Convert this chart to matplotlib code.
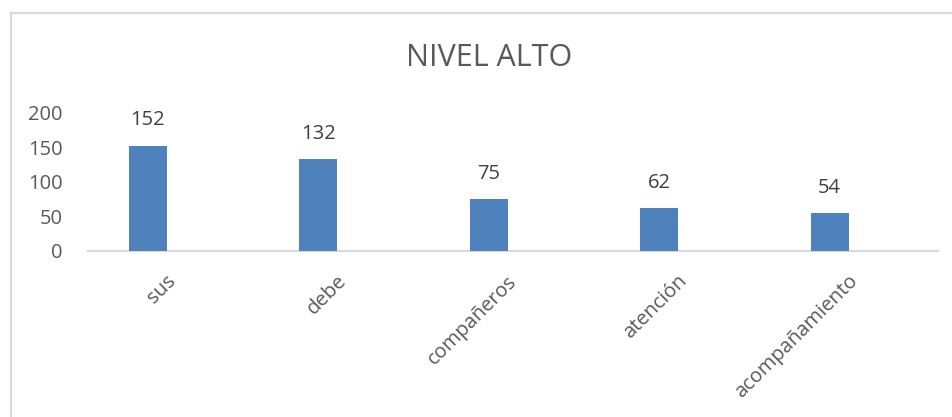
import matplotlib
matplotlib.use("Agg")
import matplotlib.pyplot as plt
from matplotlib.lines import Line2D

# ── Data ─────────────────────────────────────────────────────────────────────
categories = ["sus", "debe", "compañeros", "atención", "acompañamiento"]
values = [152, 132, 75, 62, 54]
yticks = [0, 50, 100, 150, 200]
title = "NIVEL ALTO"

BAR_COLOR = "#4F81BD"
TEXT_GRAY = "#595959"
LABEL_GRAY = "#404040"
LINE_GRAY = "#D9D9D9"

plt.rcParams["font.family"] = ["Open Sans", "DejaVu Sans"]

fig = plt.figure(figsize=(9.53, 4.17), dpi=100)
fig.patch.set_facecolor("white")
ax = fig.add_axes([0.0923, 0.3988, 0.892, 0.3314])

x = list(range(len(categories)))
bars = ax.bar(x, values, width=0.223, color=BAR_COLOR, zorder=3)

# data labels above bars
for xi, v in zip(x, values):
    ax.annotate(str(v), (xi, v), textcoords="offset points", xytext=(0, 11),
                ha="center", va="bottom", fontsize=14.5, color=LABEL_GRAY)

# rotated category labels
for xi, cat in zip(x, categories):
    ax.annotate(cat, (xi, 0), textcoords="offset points", xytext=(18, -20),
                ha="right", va="center", rotation=45, rotation_mode="anchor",
                fontsize=14.5, color=TEXT_GRAY, annotation_clip=False)

ax.set_xlim(-0.352, 4.636)
ax.set_ylim(0, 200)
ax.set_yticks(yticks)
ax.set_xticks([])
ax.tick_params(axis="y", length=0, pad=18, labelsize=14.5, labelcolor=TEXT_GRAY)

for side in ["top", "right", "left"]:
    ax.spines[side].set_visible(False)
ax.spines["bottom"].set_color(LINE_GRAY)
ax.spines["bottom"].set_linewidth(1.5)
ax.spines["bottom"].set_zorder(2)

fig.text(0.513, 0.862, title, ha="center", va="center",
         fontsize=22, color=TEXT_GRAY)

# chart frame (cropped: only left and top edges visible)
fig.add_artist(Line2D([11 / 953, 11 / 953], [0, 1 - 13 / 417],
                      transform=fig.transFigure, color=LINE_GRAY, linewidth=1.5))
fig.add_artist(Line2D([11 / 953, 1], [1 - 13 / 417, 1 - 13 / 417],
                      transform=fig.transFigure, color=LINE_GRAY, linewidth=1.5))

fig.savefig("out.png", dpi=100, facecolor="white")
